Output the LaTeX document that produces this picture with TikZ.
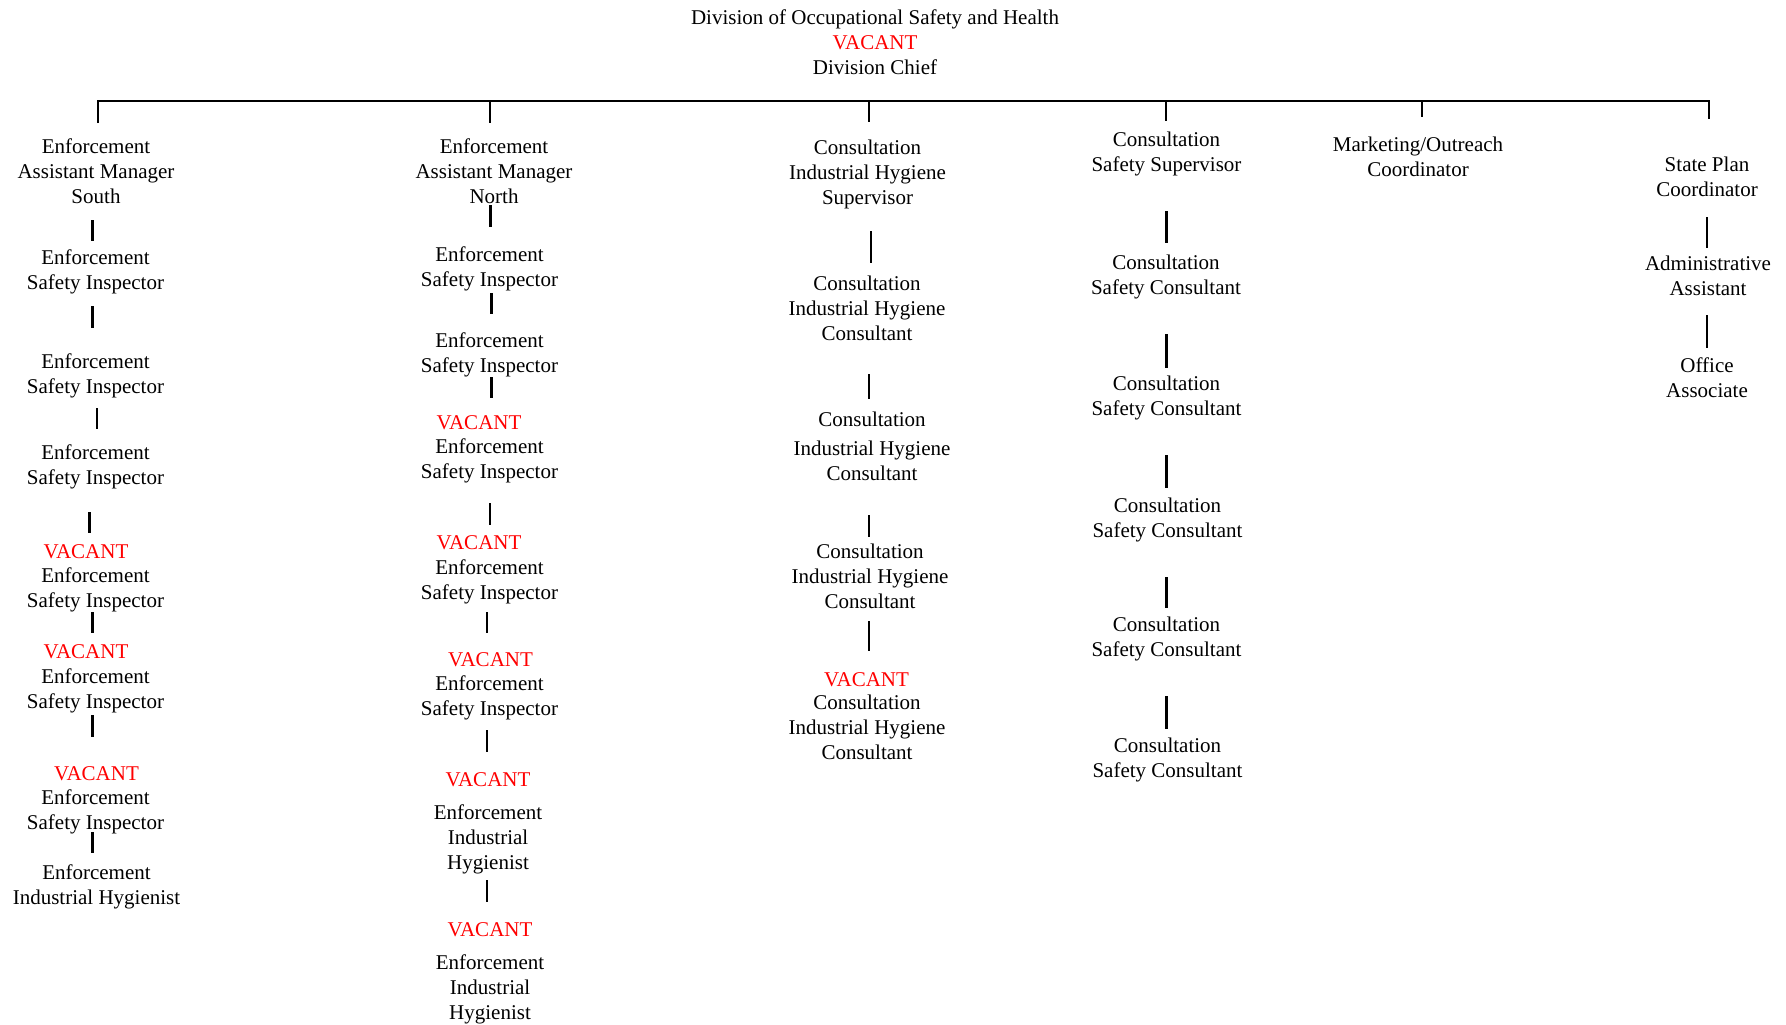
\documentclass[tikz,border=0pt]{standalone}
\usepackage{fontspec}
\setmainfont{Liberation Serif}
\newcommand\vlink[4]{\coordinate (#1-t) at (#2,#3);\coordinate (#1-b) at (#2,#4);\draw[conn] (#1-t) -- (#1-b);}
\begin{document}
\begin{tikzpicture}[x=0.5pt,y=-0.5pt,
  lbl/.style={align=center,inner sep=0pt,yshift=-0.75pt,font=\fontsize{10.5pt}{12.5pt}\selectfont,
    execute at begin node=\strut,execute at end node=\strut},
  vac/.style={lbl,text=red},
  conn/.style={line width=1.2pt},
  bus/.style={line width=1pt,line join=miter}]
\useasboundingbox (0,0) rectangle (1786,1024);

% top
\node[lbl] (chief) at (875,44.5) {Division of Occupational Safety and Health\\\textcolor{red}{VACANT}\\Division Chief};

% bus
\coordinate (d1t) at (98,100.5);   \coordinate (d1b) at (98,123);
\coordinate (d2t) at (490,100.5);  \coordinate (d2b) at (490,123);
\coordinate (d3t) at (869,100.5);  \coordinate (d3b) at (869,122);
\coordinate (d4t) at (1166,100.5); \coordinate (d4b) at (1166,121);
\coordinate (d5t) at (1421.5,100.5); \coordinate (d5b) at (1421.5,117);
\coordinate (d6t) at (1709,100.5); \coordinate (d6b) at (1709,119);
\draw[bus] (d1b) -- (d1t) -- (d6t) -- (d6b);
\draw[bus] (d2t) -- (d2b);
\draw[bus] (d3t) -- (d3b);
\draw[bus] (d4t) -- (d4b);
\draw[bus] (d5t) -- (d5b);

% column 1
\node[lbl] (c1a) at (96,173) {Enforcement\\Assistant Manager\\South};
\node[lbl] (c1b) at (95.5,271.5) {Enforcement\\Safety Inspector};
\node[lbl] (c1c) at (95.5,375.5) {Enforcement\\Safety Inspector};
\node[lbl] (c1d) at (95.5,466.5) {Enforcement\\Safety Inspector};
\node[vac] (v1) at (86,552) {VACANT};
\node[lbl] (c1e) at (95.5,590) {Enforcement\\Safety Inspector};
\node[vac] (v2) at (86,652) {VACANT};
\node[lbl] (c1f) at (95.5,690.5) {Enforcement\\Safety Inspector};
\node[vac] (v3) at (96.5,774) {VACANT};
\node[lbl] (c1g) at (95.5,811.5) {Enforcement\\Safety Inspector};
\node[lbl] (c1h) at (96.5,886.5) {Enforcement\\Industrial Hygienist};
\vlink{k11}{92.5}{220}{241}
\vlink{k12}{92.5}{306}{328}
\vlink{k13}{97}{408}{429}
\vlink{k14}{89.5}{512}{533}
\vlink{k15}{92.5}{612}{633}
\vlink{k16}{92.5}{715}{737}
\vlink{k17}{92.5}{832}{853}

% column 2
\node[lbl] (c2a) at (494,173) {Enforcement\\Assistant Manager\\North};
\node[lbl] (c2b) at (489.5,269) {Enforcement\\Safety Inspector};
\node[lbl] (c2c) at (489.5,355) {Enforcement\\Safety Inspector};
\node[vac] (v4) at (479,423) {VACANT};
\node[lbl] (c2d) at (489.5,461) {Enforcement\\Safety Inspector};
\node[vac] (v5) at (479,543) {VACANT};
\node[lbl] (c2e) at (489.5,581.5) {Enforcement\\Safety Inspector};
\node[vac] (v6) at (490.5,660) {VACANT};
\node[lbl] (c2f) at (489.5,697.5) {Enforcement\\Safety Inspector};
\node[vac] (v7) at (488,780) {VACANT};
\node[lbl] (c2g) at (488,839.5) {Enforcement\\Industrial\\Hygienist};
\node[vac] (v8) at (490,930) {VACANT};
\node[lbl] (c2h) at (490,989) {Enforcement\\Industrial\\Hygienist};
\vlink{k21}{490.5}{205}{227}
\vlink{k22}{491.5}{293}{314}
\vlink{k23}{491.5}{377}{398}
\vlink{k24}{490}{503}{525}
\vlink{k25}{487}{612}{633}
\vlink{k26}{487}{730}{752}
\vlink{k27}{487}{880}{902}

% column 3
\node[lbl] (c3a) at (867.5,174) {Consultation\\Industrial Hygiene\\Supervisor};
\node[lbl] (c3b) at (867,310) {Consultation\\Industrial Hygiene\\Consultant};
\node[lbl] (c3c) at (872,448) {Consultation\\[2pt]Industrial Hygiene\\Consultant};
\node[lbl] (c3d) at (870,578.5) {Consultation\\Industrial Hygiene\\Consultant};
\node[vac] (v9) at (866.5,680) {VACANT};
\node[lbl] (c3e) at (867,729.5) {Consultation\\Industrial Hygiene\\Consultant};
\vlink{k31}{871}{231}{263}
\vlink{k32}{869}{374}{399}
\vlink{k33}{869}{515}{537}
\vlink{k34}{869}{621}{651}

% column 4
\node[lbl] (c4a) at (1166.5,153.5) {Consultation\\Safety Supervisor};
\node[lbl] (c4b) at (1166,276.5) {Consultation\\Safety Consultant};
\node[lbl] (c4c) at (1166.5,397.5) {Consultation\\Safety Consultant};
\node[lbl] (c4d) at (1167.5,519.5) {Consultation\\Safety Consultant};
\node[lbl] (c4e) at (1166.5,638.5) {Consultation\\Safety Consultant};
\node[lbl] (c4f) at (1167.5,760) {Consultation\\Safety Consultant};
\vlink{k41}{1166.5}{211}{243}
\vlink{k42}{1166.5}{334}{368}
\vlink{k43}{1166.5}{455}{488}
\vlink{k44}{1166.5}{577}{608}
\vlink{k45}{1166.5}{696}{729}

% column 5
\node[lbl] (c5) at (1418,159) {Marketing/Outreach\\Coordinator};

% column 6
\node[lbl] (c6a) at (1707,178.5) {State Plan\\Coordinator};
\node[lbl] (c6b) at (1708,278) {Administrative\\Assistant};
\node[lbl] (c6c) at (1707,379.5) {Office\\Associate};
\vlink{k61}{1707}{217}{248}
\vlink{k62}{1707}{315}{348}
\end{tikzpicture}
\end{document}
